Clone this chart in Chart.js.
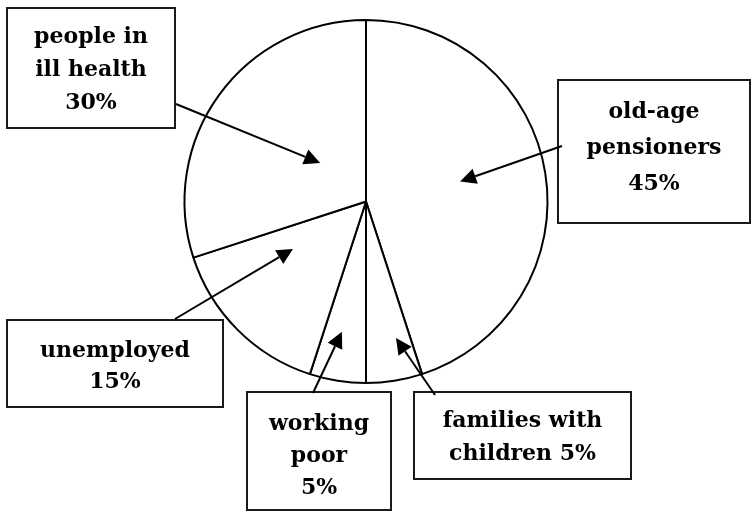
<!DOCTYPE html>
<html>
<head>
<meta charset="utf-8">
<script src="https://cdn.jsdelivr.net/npm/chart.js@4"></script>
<style>
  body { margin: 0; background: #fff; }
  canvas { display: block; }
</style>
</head>
<body>
<canvas id="poverty" width="751" height="512"></canvas>
<script>
// groups of poor people, clockwise from 12 o'clock
var groups = ['old-age pensioners', 'families with children', 'working poor', 'unemployed', 'people in ill health'];
// share of the poor, percent
var shares = [45, 5, 5, 15, 30];
// text printed in each box, {p} is replaced by the share
var boxText = [
  ['old-age', 'pensioners', '{p}'],
  ['families with', 'children {p}'],
  ['working', 'poor', '{p}'],
  ['unemployed', '{p}'],
  ['people in', 'ill health', '{p}']
];

// where the boxes sit and where their arrows start / point (layout only)
var boxes = [
  { x: 558, y: 80,  w: 192, h: 143, base: 118, step: 36, tail: [562, 146], turn: -3,  depth: 0.53 },
  { x: 414, y: 392, w: 217, h: 87,  base: 427, step: 33, tail: [435, 395], turn: -3.4, depth: 0.77 },
  { x: 247, y: 392, w: 144, h: 118, base: 430, step: 32, tail: [313, 393], turn: 1.5, depth: 0.73 },
  { x: 7,   y: 320, w: 216, h: 87,  base: 357, step: 31, tail: [175, 319], turn: 12,  depth: 0.48 },
  { x: 7,   y: 8,   w: 168, h: 120, base: 43,  step: 33, tail: [176, 104], turn: 4,   depth: 0.33 }
];

function arrow(ctx, x1, y1, x2, y2) {
  var a = Math.atan2(y2 - y1, x2 - x1);
  var len = 16, half = 8;
  var bx = x2 - len * Math.cos(a), by = y2 - len * Math.sin(a);
  ctx.beginPath();
  ctx.moveTo(x1, y1);
  ctx.lineTo(bx, by);
  ctx.stroke();
  ctx.beginPath();
  ctx.moveTo(x2, y2);
  ctx.lineTo(bx + half * Math.sin(a), by - half * Math.cos(a));
  ctx.lineTo(bx - half * Math.sin(a), by + half * Math.cos(a));
  ctx.closePath();
  ctx.fill();
}

// boxes with arrows into their slices
var calloutPlugin = {
  id: 'callouts',
  afterDatasetsDraw: function (chart) {
    var ctx = chart.ctx;
    var arcs = chart.getDatasetMeta(0).data;
    ctx.save();
    arcs.forEach(function (arc, i) {
      var b = boxes[i];
      var p = arc.getProps(['x', 'y', 'startAngle', 'endAngle', 'outerRadius'], true);
      var mid = (p.startAngle + p.endAngle) / 2 + b.turn * Math.PI / 180;
      var tx = p.x + Math.cos(mid) * p.outerRadius * b.depth;
      var ty = p.y + Math.sin(mid) * p.outerRadius * b.depth;

      ctx.lineWidth = 2;
      ctx.fillStyle = '#fff';
      ctx.fillRect(b.x, b.y, b.w, b.h);
      ctx.strokeStyle = '#1a1a1a';
      ctx.strokeRect(b.x, b.y, b.w, b.h);

      ctx.fillStyle = '#000';
      ctx.strokeStyle = '#000';
      ctx.font = 'bold 22px "DejaVu Serif"';
      ctx.textAlign = 'center';
      ctx.textBaseline = 'alphabetic';
      boxText[i].forEach(function (line, j) {
        ctx.fillText(line.replace('{p}', shares[i] + '%'), b.x + b.w / 2, b.base + j * b.step);
      });

      ctx.lineWidth = 2;
      arrow(ctx, b.tail[0], b.tail[1], tx, ty);
    });
    ctx.restore();
  }
};

var ctx = document.getElementById('poverty').getContext('2d');
var povertyChart = new Chart(ctx, {
  type: 'pie',
  data: {
    labels: groups,
    datasets: [{
      data: shares,
      backgroundColor: '#fff',
      borderColor: '#000',
      borderWidth: 2,
      borderAlign: 'center'
    }]
  },
  options: {
    responsive: false,
    animation: false,
    layout: { padding: { left: 0, right: 19, top: 19, bottom: 128 } },
    plugins: {
      legend: { display: false },
      tooltip: { enabled: false }
    }
  },
  plugins: [calloutPlugin]
});
</script>
</body>
</html>
